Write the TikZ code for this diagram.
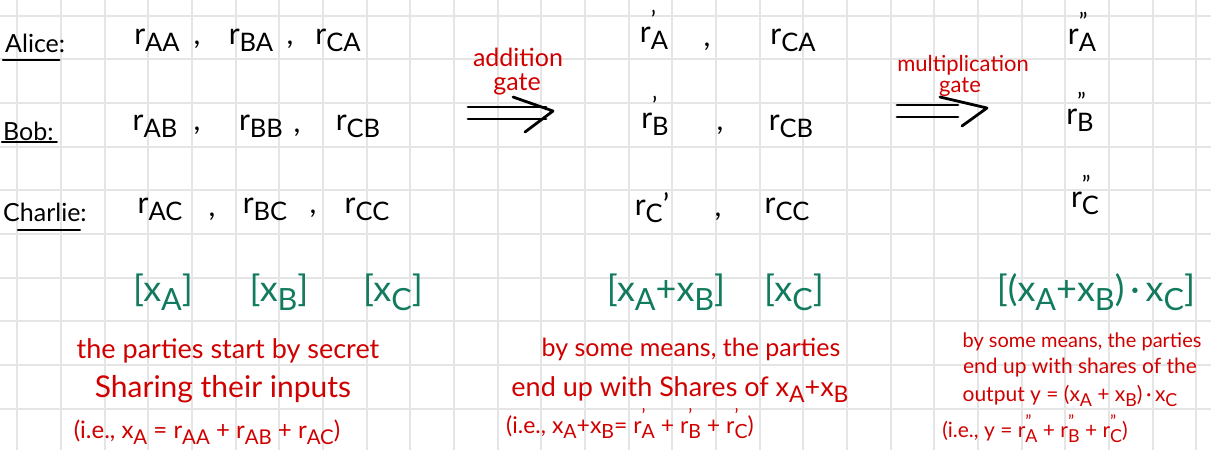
\documentclass[tikz,border=0pt]{standalone}
\usepackage{fontspec}
\usepackage{graphicx}
\setmainfont{Lato}
\usetikzlibrary{arrows.meta}

\definecolor{notered}{RGB}{208,0,0}
\definecolor{sharegreen}{RGB}{18,122,94}
\definecolor{gridgray}{RGB}{229,229,229}

% subscript and primed share
\newcommand{\lo}[1]{\raisebox{-0.5ex}{\scalebox{0.85}{#1}}}
\newcommand{\rp}[2]{r\makebox[0pt][l]{\raisebox{0.9ex}{\scalebox{0.8}{#2}}}\lo{#1}}

\tikzset{
  gridline/.style={draw=gridgray, line width=2pt},
  party/.style={font=\fontsize{25}{30}\selectfont, anchor=base west, inner sep=0pt},
  share/.style={font=\fontsize{30}{34}\selectfont, anchor=base, inner sep=0pt},
  bracket/.style={text=sharegreen, font=\fontsize{36}{40}\selectfont, anchor=base, inner sep=0pt},
  note/.style={text=notered, font=\fontsize{27}{30}\selectfont, anchor=base, inner sep=0pt},
  notemid/.style={note, font=\fontsize{25}{28}\selectfont},
  notesm/.style={note, font=\fontsize{22}{26}\selectfont},
  notexs/.style={note, font=\fontsize{20}{24}\selectfont},
  uline/.style={line width=2.5pt},
  gate/.style={line width=2.8pt}
}

\begin{document}
\begin{tikzpicture}[x=1pt, y=-1pt, line cap=round, line join=round]

% --- Grid paper ---
\useasboundingbox (0,0) rectangle (1211,450);
\foreach \i in {0,...,27}
  \draw[gridline] (17.3+43.67*\i,0) -- (17.3+43.67*\i,450);
\foreach \j in {0,...,9}
  \draw[gridline] (0,15.7+43.67*\j) -- (1211,15.7+43.67*\j);

% --- Parties ---
\node[party] (alice)   at (5,52)  {Alice:};
\node[party] (bob)     at (3,140) {Bob:};
\node[party] (charlie) at (3,221) {Charlie:};
\draw[uline] ([shift={(-2pt,-8pt)}]alice.base west) -- ([shift={(-6pt,-8pt)}]alice.base east);
\draw[uline] ([shift={(-1pt,-2pt)}]bob.base west) -- ([shift={(3pt,-2pt)}]bob.base east);
\draw[uline] ([shift={(15pt,-9pt)}]charlie.base west) -- ([shift={(-7pt,-9pt)}]charlie.base east);

% --- Shares before the gates ---
\node[share] (rAA) at (157,44)  {r\lo{AA}};
\node[share] (cm1) at (197,44)  {,};
\node[share] (rBA) at (251,44)  {r\lo{BA}};
\node[share] (cm2) at (290,44)  {,};
\node[share] (rCA) at (338,44)  {r\lo{CA}};

\node[share] (rAB) at (155,130) {r\lo{AB}};
\node[share] (cm3) at (197,130) {,};
\node[share] (rBB) at (261,130) {r\lo{BB}};
\node[share] (cm4) at (297,132) {,};
\node[share] (rCB) at (358,130) {r\lo{CB}};

\node[share] (rAC) at (160,213) {r\lo{AC}};
\node[share] (cm5) at (212,216) {,};
\node[share] (rBC) at (265,213) {r\lo{BC}};
\node[share] (cm6) at (313,213) {,};
\node[share] (rCC) at (367,213) {r\lo{CC}};

% --- Shares after addition ---
\node[share] (rpA)  at (654,42)  {\rp{A}{'}};
\node[share] (cm7)  at (707,46)  {,};
\node[share] (rCAm) at (793,44)  {r\lo{CA}};
\node[share] (rpB)  at (655,128) {\rp{B}{'}};
\node[share] (cm8)  at (720,130) {,};
\node[share] (rCBm) at (791,130) {r\lo{CB}};
\node[share] (rpC)  at (652,215) {r\lo{C}'};
\node[share] (cm9)  at (718,216) {,};
\node[share] (rCCm) at (787,213) {r\lo{CC}};

% --- Shares after multiplication ---
\node[share] (rppA) at (1082,44)  {\rp{A}{''}};
\node[share] (rppB) at (1080,124) {\rp{B}{''}};
\node[share] (rppC) at (1085,207) {\rp{C}{''}};

% --- Gates ---
\node[notemid] (addlbl) at (518,66) {addition};
\node[notemid] (addgte) at (517,90) {gate};
\coordinate (addfrom) at (468,113);
\coordinate (addto)   at (546,113);
\coordinate (addtip)  at (553,111);
\draw[gate] ([yshift=6pt]addfrom) -- ([yshift=6pt]addto)
            ([yshift=-6pt]addfrom) -- ([yshift=-6pt]addto);
\draw[gate] ([shift={(-40pt,14pt)}]addtip) -- (addtip) -- ([shift={(-28pt,-21pt)}]addtip);

\node[notesm] (mullbl) at (963,71) {multiplication};
\node[notesm] (mulgte) at (960,92) {gate};
\coordinate (mulfrom) at (897,111);
\coordinate (multo)   at (958,111);
\coordinate (multip)  at (987,108);
\draw[gate] ([yshift=6pt]mulfrom) -- ([yshift=6pt]multo)
            ([yshift=-6pt]mulfrom) -- ([yshift=-6pt]multo);
\draw[gate] ([shift={(-47pt,11pt)}]multip) -- (multip) -- ([shift={(-25pt,-18pt)}]multip);

% --- Secret shared values ---
\node[bracket] (xA)   at (163,301)  {[x\lo{A}]};
\node[bracket] (xB)   at (279,301)  {[x\lo{B}]};
\node[bracket] (xC)   at (393,301)  {[x\lo{C}]};
\node[bracket] (xAB)  at (666,301)  {[x\lo{A}+x\lo{B}]};
\node[bracket] (xCm)  at (794,301)  {[x\lo{C}]};
\node[bracket] (xABC) at (1096,301) {[(x\lo{A}+x\lo{B})\,·\,x\lo{C}]};

% --- Notes ---
\node[note] (startA) at (228,358) {the parties start by secret};
\node[note, font=\fontsize{30}{34}\selectfont] (startB) at (223,397) {Sharing their inputs};
\node[notesm, font=\fontsize{24}{28}\selectfont] (startC) at (207,438) {(i.e., x\lo{A} = r\lo{AA} + r\lo{AB} + r\lo{AC})};

\node[notemid] (addA) at (691,356) {by some means, the parties};
\node[note] (addB) at (680,396) {end up with Shares of x\lo{A}+x\lo{B}};
\node[notesm, font=\fontsize{23}{27}\selectfont] (addC) at (630,433) {(i.e., x\lo{A}+x\lo{B}= \rp{A}{'} + \rp{B}{'} + \rp{C}{'})};

\node[notexs] (mulA) at (1082,347) {by some means, the parties};
\node[notexs, font=\fontsize{21}{24}\selectfont] (mulB) at (1080,373) {end up with shares of the};
\node[notexs, font=\fontsize{21}{24}\selectfont] (mulC) at (1070,401) {output y = (x\lo{A} + x\lo{B})\,·\,x\lo{C}};
\node[notexs, font=\fontsize{21}{24}\selectfont] (mulD) at (1035,437) {(i.e., y = \rp{A}{''} + \rp{B}{''} + \rp{C}{''})};

\end{tikzpicture}
\end{document}
